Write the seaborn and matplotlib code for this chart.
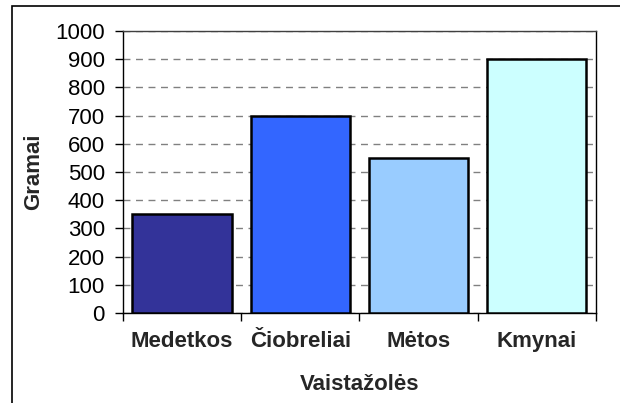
import matplotlib
matplotlib.use("Agg")
import matplotlib.pyplot as plt
import seaborn as sns
import pandas as pd
from matplotlib.patches import Rectangle

categories = ["Medetkos", "Čiobreliai", "Mėtos", "Kmynai"]
grams = [350, 700, 550, 900]
colors = ["#333399", "#3366FF", "#99CCFF", "#CCFFFF"]

sns.set_theme(style="white")
plt.rcParams["font.family"] = ["Liberation Sans", "DejaVu Sans"]

df = pd.DataFrame({"herb": categories, "grams": grams})

fig = plt.figure(figsize=(6.2, 4.03), dpi=100)
ax = fig.add_axes([0.1984, 0.2233, 0.7624, 0.6997])

sns.barplot(data=df, x="herb", y="grams", hue="herb", palette=colors,
            saturation=1, width=0.84, edgecolor="black", linewidth=1.8,
            legend=False, ax=ax, zorder=3)

ax.set_xlim(-0.5, len(categories) - 0.5)
ax.set_ylim(0, 1000)
ax.set_yticks(range(0, 1001, 100))
ax.tick_params(axis="y", labelsize=16, length=6, width=1, direction="out",
               left=True, colors="black", pad=7)

# category labels centred, tick marks at category boundaries
ax.set_xticks(range(len(categories)))
ax.set_xticklabels(categories, fontsize=16, fontweight="bold")
ax.tick_params(axis="x", which="major", length=0, pad=13)
ax.set_xticks([i - 0.5 for i in range(len(categories) + 1)], minor=True)
ax.tick_params(axis="x", which="minor", length=6, width=1, direction="out",
               bottom=True, colors="black")

ax.yaxis.grid(True, color="#808080", linestyle=(0, (5, 4)), linewidth=1)
ax.set_axisbelow(True)

for s in ax.spines.values():
    s.set_visible(True)
    s.set_color("black")
    s.set_linewidth(1)
ax.spines["top"].set_color("#404040")

ax.set_xlabel("Vaistažolės", fontsize=16, fontweight="bold", labelpad=16)
ax.set_ylabel("Gramai", fontsize=16, fontweight="bold", labelpad=8)

# chart area border (clipped at right and bottom)
fig.patches.append(Rectangle((12 / 620, -0.05), 1.2, 1 - 6 / 403 + 0.05,
                             transform=fig.transFigure, fill=False,
                             edgecolor="black", linewidth=1.2))

fig.savefig("out.png", dpi=100)
